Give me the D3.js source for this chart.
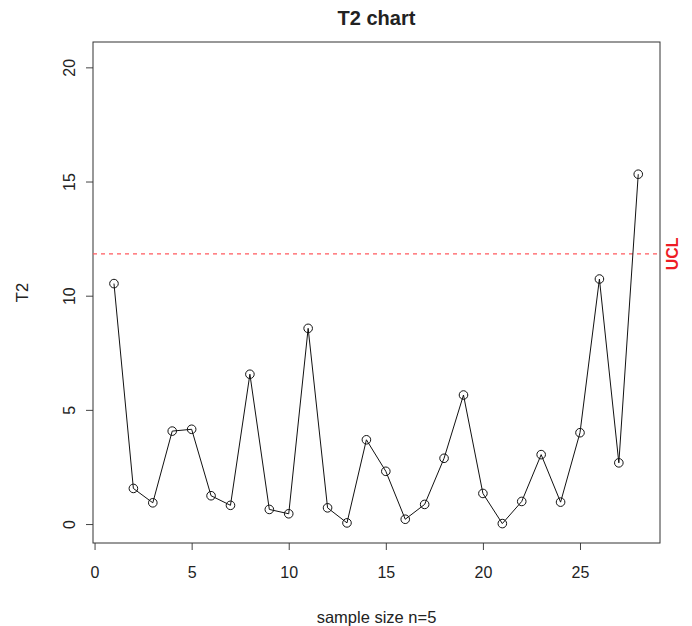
<!DOCTYPE html>
<html>
<head>
<meta charset="utf-8">
<script src="https://cdn.jsdelivr.net/npm/d3@7"></script>
<style>
  html, body { margin: 0; padding: 0; background: #fff; }
  svg { display: block; font-family: "Liberation Sans", Arial, Helvetica, sans-serif; }
</style>
</head>
<body>
<svg id="chart" width="692" height="626"></svg>
<script>
// Hotelling T2 statistic per subgroup
const samples = d3.range(1, 29);
const t2Values = [10.53, 1.56, 0.93, 4.07, 4.15, 1.24, 0.82, 6.56, 0.64, 0.45,
                  8.57, 0.71, 0.05, 3.69, 2.31, 0.21, 0.86, 2.88, 5.65, 1.34,
                  0.02, 0.99, 3.04, 0.96, 4.00, 10.73, 2.68, 15.32];
const ucl = 11.83;
const xTicks = [0, 5, 10, 15, 20, 25];
const yTicks = [0, 5, 10, 15, 20];

const plot = { left: 93, right: 660, top: 42, bottom: 543 };

const svg = d3.select("#chart");

const x = d3.scaleLinear().domain([-0.08, 29.12]).range([plot.left, plot.right]);
const y = d3.scaleLinear().domain([-0.83, 21.11]).range([plot.bottom, plot.top]);

// Title
svg.append("text")
  .attr("x", (plot.left + plot.right) / 2)
  .attr("y", 25)
  .attr("text-anchor", "middle")
  .attr("font-weight", "bold")
  .attr("font-size", 20)
  .attr("fill", "#222")
  .text("T2 chart");

// Axes
const xAxis = svg.append("g")
  .attr("transform", `translate(0,${plot.bottom})`)
  .call(d3.axisBottom(x).tickValues(xTicks).tickSize(7).tickSizeOuter(0).tickPadding(17));
const yAxis = svg.append("g")
  .attr("transform", `translate(${plot.left},0)`)
  .call(d3.axisLeft(y).tickValues(yTicks).tickSize(7).tickSizeOuter(0));

[xAxis, yAxis].forEach(g => {
  g.select(".domain").remove();
  g.selectAll(".tick line").attr("stroke", "#444");
  g.selectAll("text").attr("font-size", 16).attr("fill", "#222")
    .attr("font-family", "Liberation Sans, Arial, sans-serif");
});

// y tick labels run parallel to the axis
yAxis.selectAll(".tick text")
  .attr("x", null).attr("dy", null)
  .attr("text-anchor", "middle")
  .attr("transform", "translate(-18,0) rotate(-90)");

// Plot frame
svg.append("rect")
  .attr("x", plot.left).attr("y", plot.top)
  .attr("width", plot.right - plot.left).attr("height", plot.bottom - plot.top)
  .attr("fill", "none").attr("stroke", "#333").attr("stroke-width", 1);

// Axis titles
svg.append("text")
  .attr("x", (plot.left + plot.right) / 2).attr("y", 623)
  .attr("text-anchor", "middle").attr("font-size", 16.5).attr("fill", "#222")
  .text("sample size n=5");
svg.append("text")
  .attr("transform", `translate(28,${(plot.top + plot.bottom) / 2}) rotate(-90)`)
  .attr("text-anchor", "middle").attr("font-size", 16.5).attr("fill", "#222")
  .text("T2");

// Upper control limit
svg.append("line")
  .attr("x1", plot.left).attr("x2", plot.right)
  .attr("y1", y(ucl)).attr("y2", y(ucl))
  .attr("stroke", "#ff5a5f").attr("stroke-width", 1.2)
  .attr("stroke-dasharray", "4,4");
svg.append("text")
  .attr("transform", `translate(678,${y(ucl)}) rotate(-90)`)
  .attr("text-anchor", "middle").attr("font-size", 16).attr("font-weight", "bold")
  .attr("fill", "#ee1c25")
  .text("UCL");

// Series line and point markers
const data = samples.map((s, i) => ({ s, v: t2Values[i] }));
svg.append("path")
  .datum(data)
  .attr("fill", "none").attr("stroke", "#111").attr("stroke-width", 1)
  .attr("d", d3.line().x(d => x(d.s)).y(d => y(d.v)));
svg.append("g").selectAll("circle")
  .data(data).join("circle")
  .attr("cx", d => x(d.s)).attr("cy", d => y(d.v))
  .attr("r", 4.3)
  .attr("fill", "none").attr("stroke", "#111").attr("stroke-width", 1);
</script>
</body>
</html>
